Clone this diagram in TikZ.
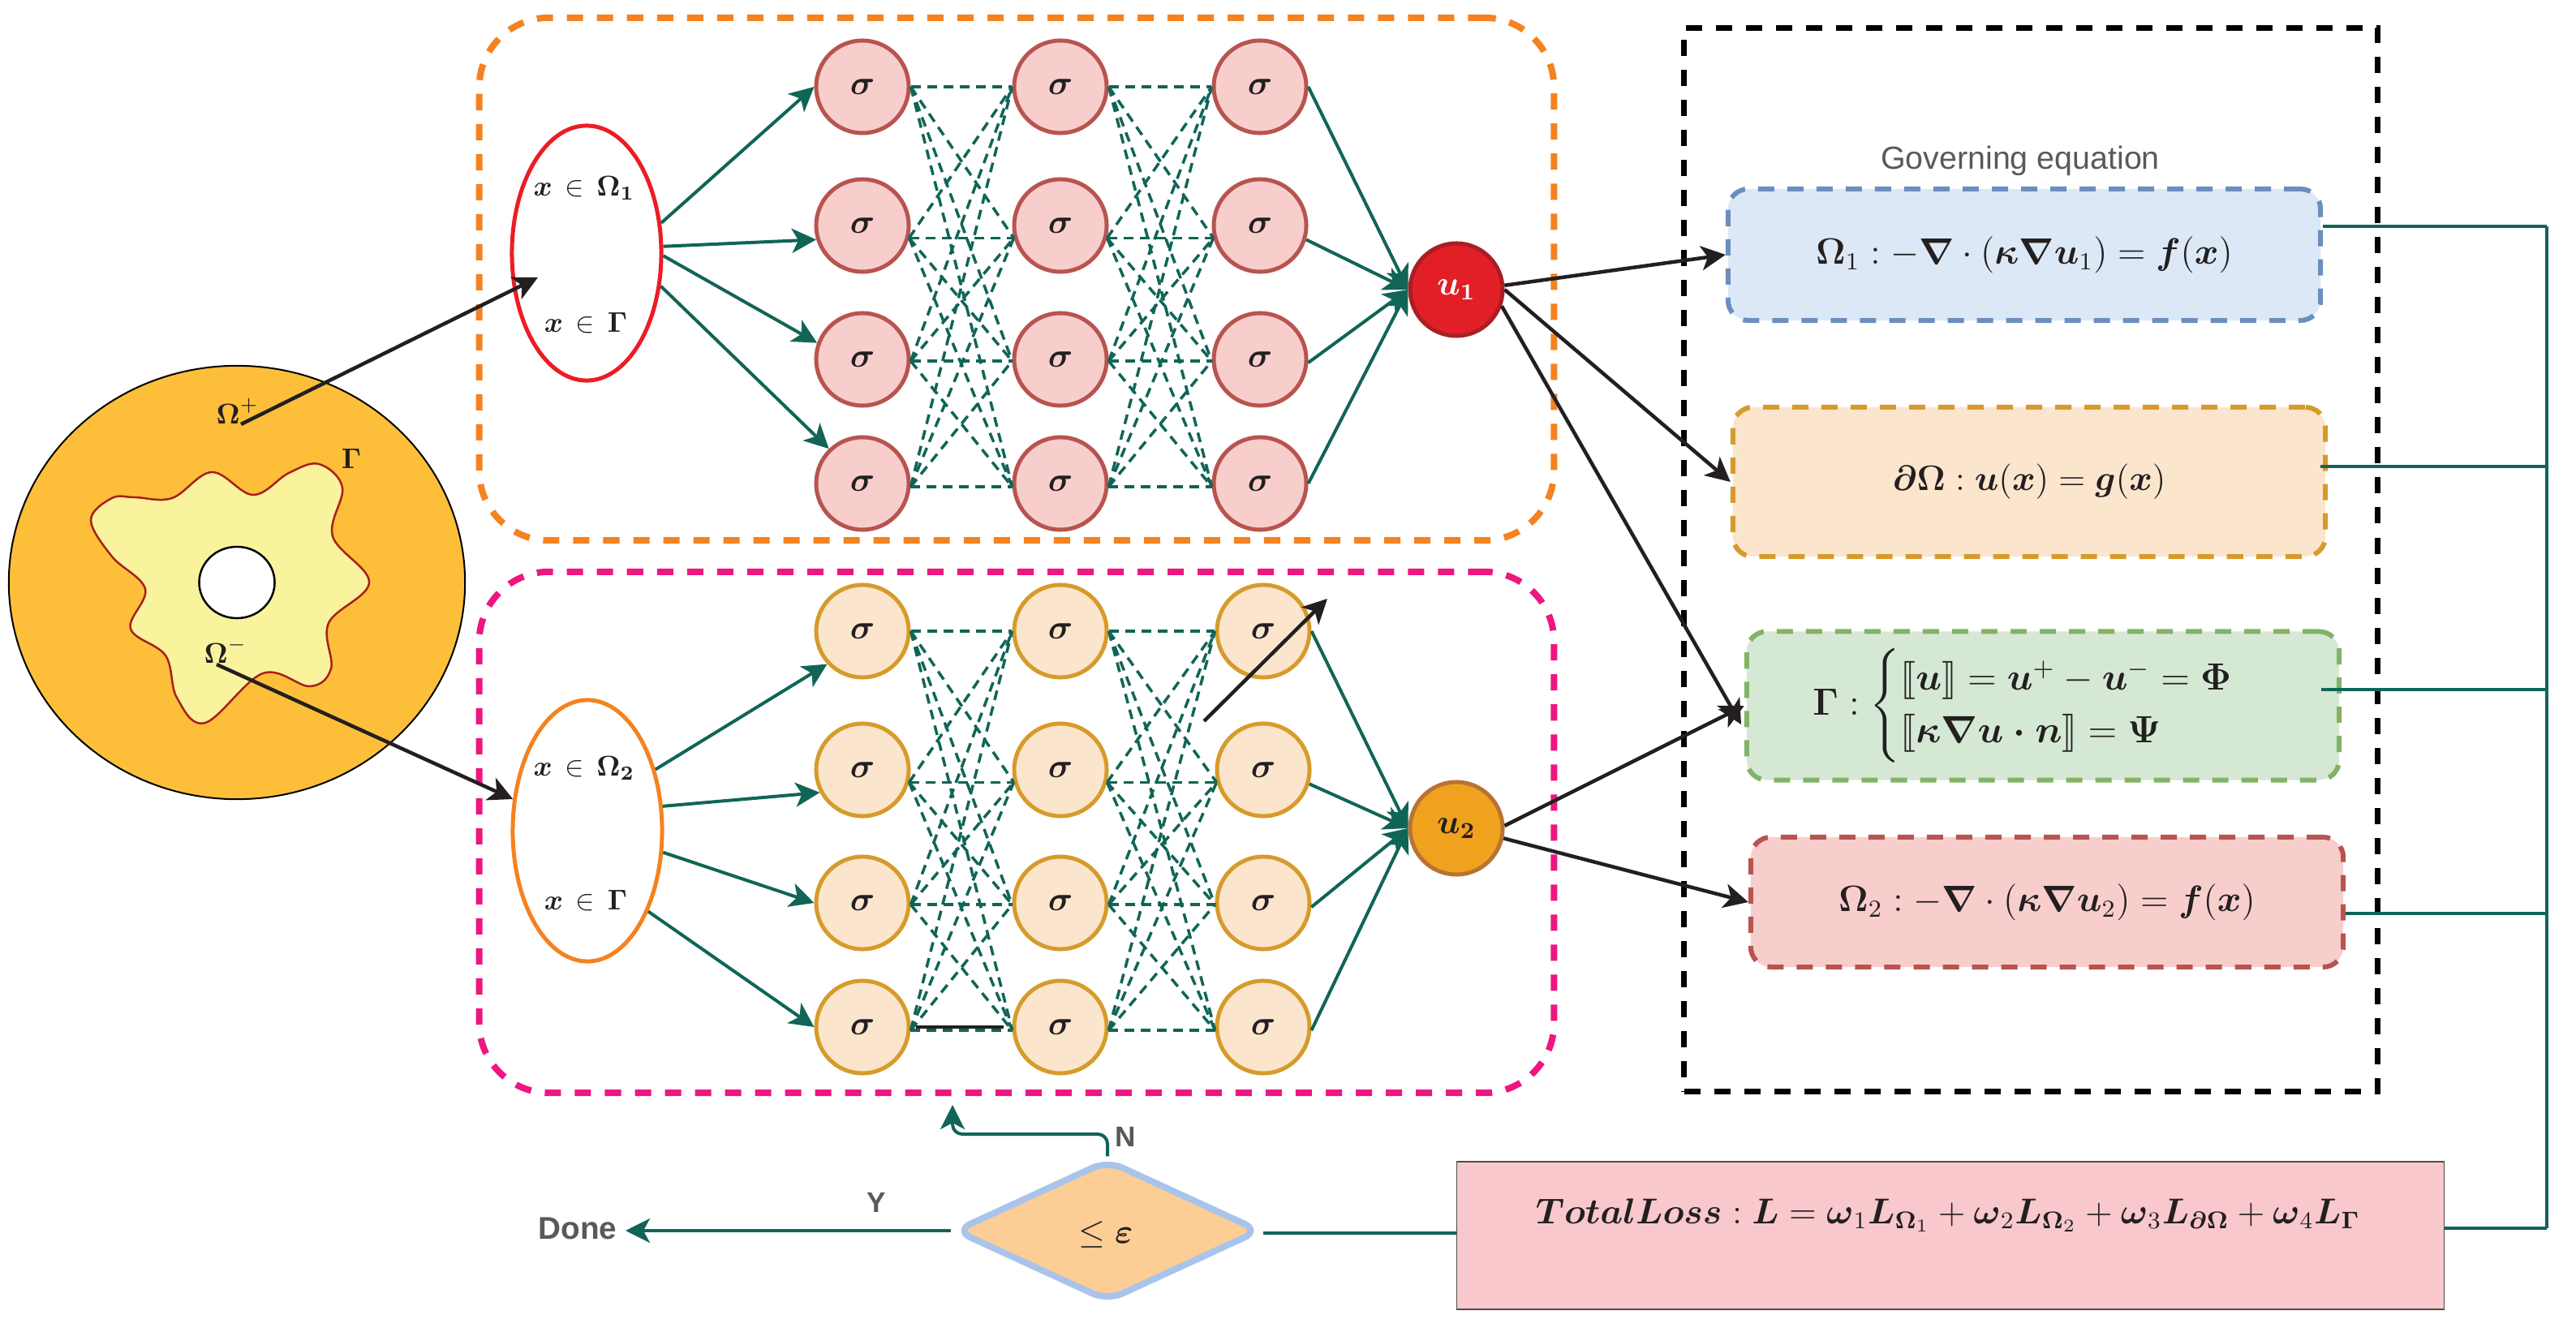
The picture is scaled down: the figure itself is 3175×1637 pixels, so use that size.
\documentclass[tikz,border=0pt]{standalone}
\usepackage{amsmath,amssymb}
\usepackage{stmaryrd}
\usepackage[no-math]{fontspec}
\usetikzlibrary{arrows.meta,shapes.geometric}
\newfontfamily\labelfont{Liberation Sans}
\newcommand{\bsy}[1]{\boldsymbol{#1}}

\definecolor{ink}{HTML}{231F20}
\definecolor{teal1}{HTML}{106557}
\definecolor{orange1}{HTML}{F58220}
\definecolor{pink1}{HTML}{EE1680}
\definecolor{red1}{HTML}{ED1C24}
\definecolor{greytxt}{HTML}{595959}
\definecolor{rosefill}{HTML}{F8CECC}
\definecolor{roseline}{HTML}{B85450}
\definecolor{sandfill}{HTML}{FCE5CD}
\definecolor{sandline}{HTML}{D69B2A}
\definecolor{bluefill}{HTML}{DCE8F5}
\definecolor{blueline}{HTML}{6C8EBF}
\definecolor{greenfill}{HTML}{D5E8D4}
\definecolor{greenline}{HTML}{82B366}
\definecolor{domfill}{HTML}{FDBF3A}
\definecolor{blobfill}{HTML}{F9F39E}
\definecolor{blobline}{HTML}{A8201A}
\definecolor{uone}{HTML}{E21F26}
\definecolor{uoneline}{HTML}{AA1E24}
\definecolor{utwo}{HTML}{F0A21E}
\definecolor{utwoline}{HTML}{B87333}
\definecolor{lossfill}{HTML}{F8C8CC}
\definecolor{dfill}{HTML}{FDCD96}
\definecolor{dline}{HTML}{A9C4EB}

\tikzset{
  every node/.append style={text=ink},
  grp/.style={draw=#1,rectangle,line width=.08cm,dash pattern=on .2cm off .17cm,rounded corners=.86cm,minimum width=13.24cm,inner sep=0},
  inp/.style={draw=#1,ellipse,line width=.05cm,minimum width=1.84cm,inner sep=0},
  neu/.style={circle,minimum size=1.14cm,inner sep=0,line width=.05cm,font=\large},
  neuA/.style={neu,fill=rosefill,draw=roseline},
  neuB/.style={neu,fill=sandfill,draw=sandline},
  eqn/.style={rectangle,rounded corners=.25cm,line width=.06cm,dash pattern=on .2cm off .16cm,inner sep=0,minimum width=7.3cm,font=\large},
  lbl/.style={inner sep=0,text=greytxt},
  arr/.style={-{Stealth[length=.3cm,width=.3cm,inset=.08cm]},line width=.04cm,color=teal1},
  blk/.style={-{Stealth[length=.3cm,width=.3cm,inset=.08cm]},line width=.045cm,color=ink},
  link/.style={line width=.035cm,color=teal1,dash pattern=on .12cm off .08cm},
  bus/.style={line width=.04cm,color=teal1},
}

\begin{document}
\begin{tikzpicture}[x=.01cm,y=-.01cm]
  \useasboundingbox (0,0) rectangle (3175,1637);

  % dashed frames
  \node[grp=orange1,minimum height=6.44cm] (box1) at (1253,344) {};
  \node[grp=pink1,minimum height=6.42cm] (box2) at (1253,1026) {};
  \node[draw=black,rectangle,line width=.07cm,dash pattern=on .2cm off .17cm,minimum width=8.54cm,minimum height=13.11cm,inner sep=0] (box3) at (2503,690) {};

  % domain
  \node[ellipse,draw=black,fill=domfill,line width=.02cm,minimum width=5.62cm,minimum height=5.34cm,inner sep=0] (dom) at (292,718) {};
  \draw[draw=blobline,fill=blobfill,line width=.025cm]
    plot[smooth cycle,tension=.6] coordinates {(112,641) (138,614) (166,613) (212,614) (261,582) (312,610) (356,583) (393,572) (422,601) (410,661) (455,718) (405,768) (408,824) (382,846) (324,830) (253,891) (218,860) (204,808) (161,775) (179,726) (138,686)};
  \node[ellipse,draw=black,fill=white,line width=.025cm,minimum width=.93cm,minimum height=.88cm,inner sep=0] (hole) at (292,718) {};
  \node[inner sep=0] (omP) at (293,507) {$\bsy{\Omega}^{+}$};
  \node[inner sep=0] (omM) at (278,802) {$\bsy{\Omega}^{-}$};
  \node[inner sep=0] (gam) at (433,565) {$\bsy{\Gamma}$};
  \coordinate (pP) at (297,523);
  \coordinate (pM) at (267,819);

  % input ellipses
  \node[inp=red1,minimum height=3.14cm] (e1) at (723,312) {};
  \node[inp=orange1,minimum height=3.22cm] (e2) at (724,1024) {};
  \node[inner sep=0] (t1) at (720,232) {$\bsy{x}\,\in\,\bsy{\Omega}_{\mathbf{1}}$};
  \node[inner sep=0] (t2) at (722,398) {$\bsy{x}\,\in\,\bsy{\Gamma}$};
  \node[inner sep=0] (t3) at (720,947) {$\bsy{x}\,\in\,\bsy{\Omega}_{\mathbf{2}}$};
  \node[inner sep=0] (t4) at (722,1110) {$\bsy{x}\,\in\,\bsy{\Gamma}$};
  \coordinate (tipP) at (663,342);

  % upper net
  \foreach \c/\x in {1/1063,2/1307,3/1553}
    \foreach \i/\y in {1/107,2/278,3/443,4/596}
      \node[neuA] (a\c\i) at (\x,\y) {$\bsy{\sigma}$};
  % lower net
  \foreach \i/\y in {1/778,2/949,3/1113,4/1266} {
    \node[neuB] (b1\i) at (1063,\y) {$\bsy{\sigma}$};
    \node[neuB] (b2\i) at (1307,\y) {$\bsy{\sigma}$};
    \node[neuB] (b3\i) at (1557,\y) {$\bsy{\sigma}$};
  }

  \foreach \n in {a,b}
    \foreach \c/\d in {1/2,2/3}
      \foreach \i/\p in {1/0,2/-15,3/-2,4/-4}
        \foreach \j/\q in {1/180,2/195,3/182,4/184}
          \draw[link] (\n\c\i.\p) -- (\n\d\j.\q);

  % outputs
  \node[neu,fill=uone,draw=uoneline,text=white] (u1) at (1795,357) {$\bsy{u}_{\mathbf{1}}$};
  \node[neu,fill=utwo,draw=utwoline] (u2) at (1795,1021) {$\bsy{u}_{\mathbf{2}}$};

  % equations
  \node[eqn,fill=bluefill,draw=blueline,minimum height=1.62cm] (g1) at (2495,314)
    {\scalebox{1.07}{$\bsy{\Omega}_1:-\bsy{\nabla}\cdot\left(\bsy{\kappa\nabla u}_1\right)=\bsy{f}(\bsy{x})$}};
  \node[eqn,fill=sandfill,draw=sandline,minimum height=1.84cm] (g2) at (2501,594)
    {\scalebox{1.03}{$\bsy{\partial\Omega}:\bsy{u}(\bsy{x})=\bsy{g}(\bsy{x})$}};
  \node[eqn,fill=greenfill,draw=greenline,minimum height=1.83cm] (g3) at (2518,870)
    {\scalebox{1.11}{$\bsy{\Gamma}:\begin{cases}\llbracket \bsy{u}\rrbracket=\bsy{u}^{+}-\bsy{u}^{-}=\bsy{\Phi}\\ \llbracket \bsy{\kappa\nabla u\cdot n}\rrbracket=\bsy{\Psi}\end{cases}$}};
  \node[eqn,fill=rosefill,draw=roseline,minimum height=1.6cm] (g4) at (2523,1112)
    {\scalebox{1.07}{$\bsy{\Omega}_2:-\bsy{\nabla}\cdot\left(\bsy{\kappa\nabla u}_2\right)=\bsy{f}(\bsy{x})$}};
  \node[lbl,font=\labelfont\fontsize{11.2}{13}\selectfont] (gov) at (2490,198) {Governing equation};

  % loss
  \node[rectangle,draw=black!70,line width=.012cm,fill=lossfill,minimum width=12.17cm,minimum height=1.82cm,inner sep=0] (t) at (2404,1523) {};
  \node[inner sep=0,font=\large] (tl) at (2401,1498)
    {\scalebox{1.05}{$\bsy{TotalLoss}:\bsy{L}=\bsy{\omega}_1\bsy{L}_{\bsy{\Omega}_1}+\bsy{\omega}_2\bsy{L}_{\bsy{\Omega}_2}+\bsy{\omega}_3\bsy{L}_{\bsy{\partial\Omega}}+\bsy{\omega}_4\bsy{L}_{\bsy{\Gamma}}$}};
  \node[diamond,draw=dline,fill=dfill,line width=.08cm,rounded corners=.2cm,minimum width=3.77cm,minimum height=1.75cm,inner sep=0] (d) at (1365,1517) {};
  \node[inner sep=0,font=\large] (dt) at (1363,1522) {$\leq\bsy{\varepsilon}$};
  \node[lbl,font=\labelfont\bfseries\fontsize{11}{13}\selectfont] (done) at (712,1514) {Done};
  \node[lbl,font=\labelfont\bfseries\fontsize{10}{12}\selectfont] (yes) at (1080,1482) {Y};
  \node[lbl,font=\labelfont\bfseries\fontsize{10}{12}\selectfont] (no) at (1387,1401) {N};

  % input arrows
  \draw[arr] (e1.22) -- (a11.west);
  \draw[arr] (e1.5) -- (a12.197);
  \draw[arr] (e1.-2) -- (a13.160);
  \draw[arr] (e1.-24) -- (a14.134);
  \draw[arr] (e2.42) -- (b11.223);
  \draw[arr] (e2.18) -- (b12.208);
  \draw[arr] (e2.-16) -- (b13.west);
  \draw[arr] (e2.-53) -- (b14.west);

  % output arrows
  \draw[arr] (a31.east) -- (u1.west);
  \draw[arr] (a32.-17) -- (u1.west);
  \draw[arr] (a33.-4) -- (u1.west);
  \draw[arr] (a34.east) -- (u1.west);
  \draw[arr] (b31.east) -- (u2.west);
  \draw[arr] (b32.-17) -- (u2.west);
  \draw[arr] (b33.-5) -- (u2.west);
  \draw[arr] (b34.-4) -- (u2.west);

  % black arrows
  \draw[blk] (pP) -- (tipP);
  \draw[blk] (pM) -- (e2.157);
  \coordinate (star) at (2146,893);
  \draw[blk] (u1.5) -- (g1.west);
  \draw[blk] (u1.0) -- (g2.west);
  \draw[blk] (u1.-20) -- (star);
  \draw[blk] (u2.3) -- (g3.west);
  \draw[blk] (u2.-12) -- (g4.west);

  % stray strokes
  \coordinate (s1) at (1484,889);
  \coordinate (s2) at (1636,738);
  \draw[blk] (s1) -- (s2);
  \coordinate (s3) at (1129,1266);
  \coordinate (s4) at (1237,1266);
  \draw[line width=.04cm,color=ink] (s3) -- (s4);

  % loss bus
  \coordinate (c1) at (3139,279);
  \coordinate (c2) at (3139,575);
  \coordinate (c3) at (3139,850);
  \coordinate (c4) at (3139,1126);
  \coordinate (c5) at (3139,1514);
  \draw[bus] (g1.east |- c1) -- (c1);
  \draw[bus] ([xshift=-.09cm]g2.east |- c2) -- (c2);
  \draw[bus] ([xshift=-.25cm]g3.east |- c3) -- (c3);
  \draw[bus] (g4.east |- c4) -- (c4);
  \draw[bus] (t.east |- c5) -- (c5);
  \draw[bus] (c1) -- (c5);

  % decision
  \coordinate (dR) at (1557,1520);
  \coordinate (doneTip) at (771,1517);
  \draw[bus] (t.west |- dR) -- (dR);
  \draw[arr] (d.west) -- (doneTip);
  \coordinate (nMid) at (1174,1398);
  \coordinate (nTip) at (1174,1362);
  \draw[arr,rounded corners=.12cm] (d.north) |- (nMid) -- (nTip);
\end{tikzpicture}
\end{document}
